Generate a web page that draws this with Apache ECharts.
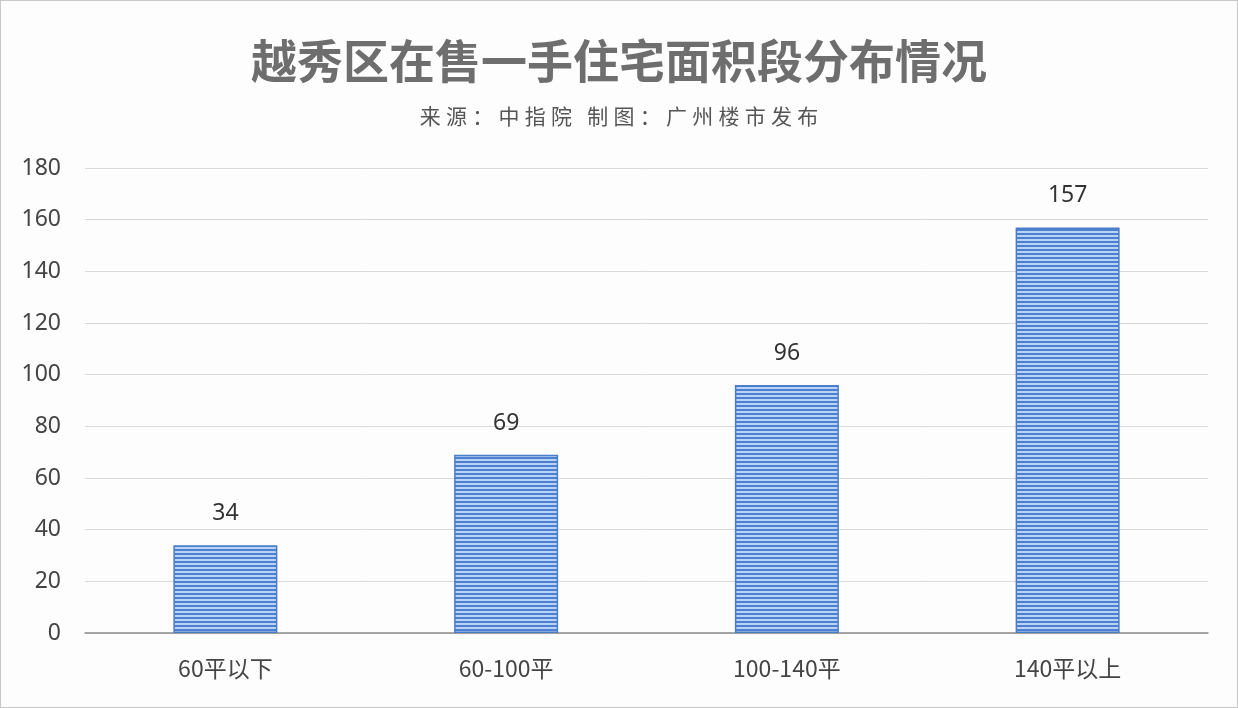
<!DOCTYPE html>
<html><head><meta charset="utf-8">
<script src="https://cdn.jsdelivr.net/npm/echarts@6/dist/echarts.min.js"></script>
<style>html,body{margin:0;padding:0;background:#fff}#c{width:1236px;height:706px;border:1px solid #c8c8c8}</style>
</head><body><div id="c"></div>
<script>
const categories = ['60平以下', '60-100平', '100-140平', '140平以上'];
const values = [34, 69, 96, 157];
const yTicks = [0, 20, 40, 60, 80, 100, 120, 140, 160, 180];
const titleText = '越秀区在售一手住宅面积段分布情况';
const subtitleText = '来源：中指院 制图：广州楼市发布';

const pc = document.createElement('canvas');
pc.width = 4; pc.height = 4;
const ctx = pc.getContext('2d');
ctx.fillStyle = '#b8d3f5'; ctx.fillRect(0,0,4,4);
ctx.fillStyle = '#4f80d0'; ctx.fillRect(0,0,4,2);

const spaced = Array.from(subtitleText).join('\u2005');

const chart = echarts.init(document.getElementById('c'));
chart.setOption({
  backgroundColor: '#fdfdfd',
  title: {
    text: titleText,
    subtext: spaced,
    left: 'center', top: 32, itemGap: 22,
    textStyle: {fontFamily: 'Noto Sans CJK SC', fontSize: 46, fontWeight: 'bold', color: '#6e6e6e'},
    subtextStyle: {fontFamily: 'Noto Sans CJK SC', fontSize: 21, color: '#555'}
  },
  grid: {left: 84, right: 29, top: 167, bottom: 74, containLabel: false},
  xAxis: {
    type: 'category', data: categories,
    axisLine: {lineStyle: {color: '#8c8c8c', width: 1.5}},
    axisTick: {show: false},
    axisLabel: {fontFamily: 'Noto Sans CJK SC', fontSize: 23, color: '#444', margin: 24}
  },
  yAxis: {
    type: 'value', min: 0, max: 180, interval: 20,
    axisLine: {show: false}, axisTick: {show: false},
    splitLine: {lineStyle: {color: '#d9d9d9'}},
    axisLabel: {fontFamily: 'Noto Sans', fontSize: 23, color: '#444', margin: 24,
      formatter: v => yTicks.includes(v) ? String(v) : ''}
  },
  series: [{
    type: 'bar', data: values, barWidth: 104,
    itemStyle: {color: {image: pc, repeat: 'repeat'}, borderColor: '#4a7cc8', borderWidth: 1.5},
    label: {show: true, position: 'top', distance: 20, fontFamily: 'Noto Sans', fontSize: 23, color: '#333'}
  }]
});
</script></body></html>
